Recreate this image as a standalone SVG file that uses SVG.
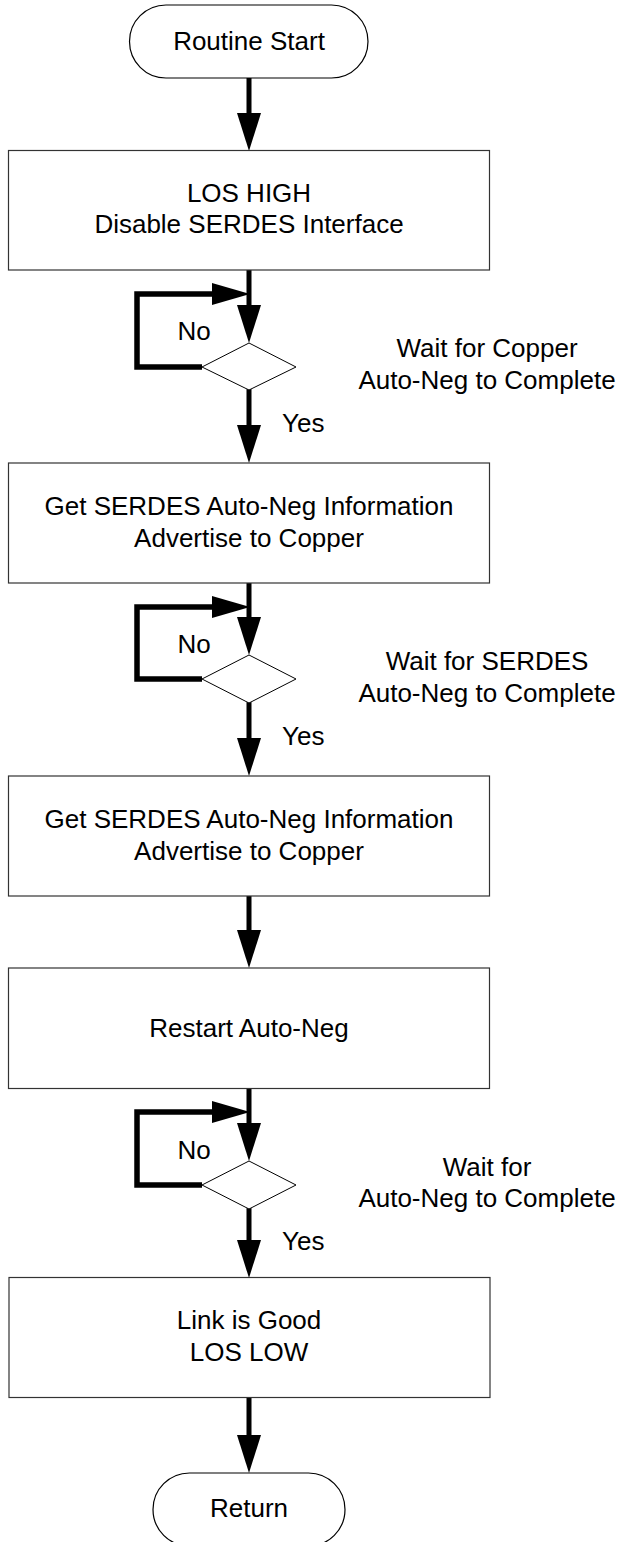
<svg xmlns="http://www.w3.org/2000/svg" width="620" height="1542" viewBox="0 0 620 1542">
<style>
.box{fill:#fff;stroke:#333;stroke-width:1.2}
.term{fill:#fff;stroke:#000;stroke-width:1.2}
.dia{fill:#fff;stroke:#000;stroke-width:1}
.ln{fill:none;stroke:#000;stroke-width:5;stroke-linecap:round}
.lp{fill:none;stroke:#000;stroke-width:5.5;stroke-linejoin:miter;stroke-linecap:butt}
.hd{fill:#000}
text{font-family:"Liberation Sans",Arial,sans-serif;font-size:26px;fill:#000}
.c{text-anchor:middle}
</style>
<rect width="620" height="1542" fill="#fff"/>
<g id="connectors">
  <line class="ln" x1="249" y1="77" x2="249" y2="114"/>
  <polygon class="hd" points="237,113 261,113 249,151"/>
  <line class="ln" x1="249" y1="270" x2="249" y2="306"/>
  <polygon class="hd" points="237,305 261,305 249,343"/>
  <path class="lp" d="M202,367 H137 V294 H214"/>
  <polygon class="hd" points="212,283 212,305 250,294"/>
  <line class="ln" x1="249" y1="390" x2="249" y2="426"/>
  <polygon class="hd" points="237,425 261,425 249,463"/>
  <line class="ln" x1="249" y1="583" x2="249" y2="618"/>
  <polygon class="hd" points="237,617 261,617 249,655"/>
  <path class="lp" d="M202,679 H137 V607 H214"/>
  <polygon class="hd" points="212,596 212,618 250,607"/>
  <line class="ln" x1="249" y1="703" x2="249" y2="739"/>
  <polygon class="hd" points="237,738 261,738 249,776"/>
  <line class="ln" x1="249" y1="896" x2="249" y2="931"/>
  <polygon class="hd" points="237,930 261,930 249,968"/>
  <line class="ln" x1="249" y1="1089" x2="249" y2="1124"/>
  <polygon class="hd" points="237,1123 261,1123 249,1161"/>
  <path class="lp" d="M202,1185 H137 V1112 H214"/>
  <polygon class="hd" points="212,1101 212,1123 250,1112"/>
  <line class="ln" x1="249" y1="1209" x2="249" y2="1241"/>
  <polygon class="hd" points="237,1240 261,1240 249,1278"/>
  <line class="ln" x1="249" y1="1398" x2="249" y2="1436"/>
  <polygon class="hd" points="237,1435 261,1435 249,1473"/>
  <text x="194" y="340" class="c">No</text>
  <text x="282" y="432">Yes</text>
  <text x="194" y="653" class="c">No</text>
  <text x="282" y="745">Yes</text>
  <text x="194" y="1159" class="c">No</text>
  <text x="282" y="1250">Yes</text>
</g>
<g id="start">
  <rect x="129.5" y="5" width="238.5" height="73" rx="36.5" ry="36.5" class="term"/>
  <text x="249" y="50" class="c">Routine Start</text>
</g>
<g id="box1">
  <rect x="8.5" y="150.5" width="481" height="119.5" class="box"/>
  <text x="249" y="202" class="c">LOS HIGH</text>
  <text x="249" y="233" class="c">Disable SERDES Interface</text>
</g>
<g id="dec1">
  <polygon class="dia" points="249,343 296,367 249,390 202,367"/>
  <text x="487" y="357" class="c">Wait for Copper</text>
  <text x="487" y="389" class="c">Auto-Neg to Complete</text>
</g>
<g id="box2">
  <rect x="8.5" y="463" width="481" height="120" class="box"/>
  <text x="249" y="515" class="c">Get SERDES Auto-Neg Information</text>
  <text x="249" y="547" class="c">Advertise to Copper</text>
</g>
<g id="dec2">
  <polygon class="dia" points="249,655 296,679 249,703 202,679"/>
  <text x="487" y="670" class="c">Wait for SERDES</text>
  <text x="487" y="702" class="c">Auto-Neg to Complete</text>
</g>
<g id="box3">
  <rect x="8.5" y="776" width="481" height="120" class="box"/>
  <text x="249" y="828" class="c">Get SERDES Auto-Neg Information</text>
  <text x="249" y="860" class="c">Advertise to Copper</text>
</g>
<g id="box4">
  <rect x="8.5" y="968" width="481" height="120.5" class="box"/>
  <text x="249" y="1037" class="c">Restart Auto-Neg</text>
</g>
<g id="dec3">
  <polygon class="dia" points="249,1161 296,1185 249,1209 202,1185"/>
  <text x="487" y="1176" class="c">Wait for</text>
  <text x="487" y="1207" class="c">Auto-Neg to Complete</text>
</g>
<g id="box5">
  <rect x="9" y="1277.5" width="481" height="120" class="box"/>
  <text x="249" y="1329" class="c">Link is Good</text>
  <text x="249" y="1361" class="c">LOS LOW</text>
</g>
<g id="return">
  <rect x="153" y="1473" width="192" height="73" rx="36.5" ry="36.5" class="term"/>
  <text x="249" y="1517" class="c">Return</text>
</g>
</svg>
